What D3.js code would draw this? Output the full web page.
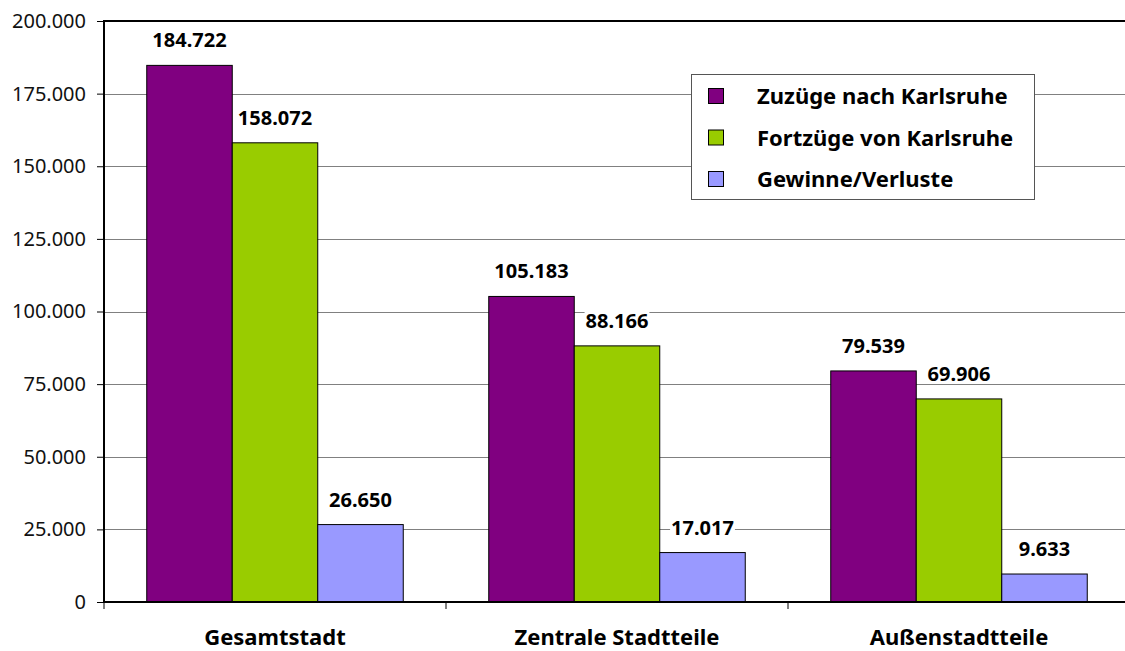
<!DOCTYPE html>
<html>
<head>
<meta charset="utf-8">
<script src="https://cdn.jsdelivr.net/npm/d3@7"></script>
<style>
  body { margin: 0; background: #fff; }
  svg { display: block; font-family: "Noto Sans", sans-serif; }
</style>
</head>
<body>
<div id="chart"></div>
<script>
const categories = ["Gesamtstadt", "Zentrale Stadtteile", "Außenstadtteile"];
const seriesNames = ["Zuzüge nach Karlsruhe", "Fortzüge von Karlsruhe", "Gewinne/Verluste"];
const zuzuege = [184722, 105183, 79539];
const fortzuege = [158072, 88166, 69906];
const gewinne = [26650, 17017, 9633];
const yTicks = [0, 25000, 50000, 75000, 100000, 125000, 150000, 175000, 200000];

const colors = ["#800080", "#99cc00", "#9999ff"];
const seriesValues = [zuzuege, fortzuege, gewinne];

const size = { width: 1125, height: 651 };
const plot = { left: 104, right: 1130, top: 21, bottom: 602 };

const de = d3.formatLocale({ decimal: ",", thousands: ".", grouping: [3], currency: ["", " €"] });
const fmt = de.format(",d");

const svg = d3.select("#chart")
  .append("svg")
  .attr("width", size.width)
  .attr("height", size.height);

const x0 = d3.scaleBand().domain(categories).range([plot.left, plot.right]).padding(0);
const x1 = d3.scaleBand().domain(d3.range(seriesNames.length))
  .range([0, x0.bandwidth()]).paddingInner(0).paddingOuter(0.5);
const y = d3.scaleLinear().domain([0, 200000]).range([plot.bottom, plot.top]);

// gridlines
svg.append("g")
  .selectAll("line")
  .data(yTicks.filter(d => d > 0 && d < 200000))
  .enter().append("line")
    .attr("x1", plot.left).attr("x2", size.width)
    .attr("y1", d => Math.round(y(d)) + 0.5).attr("y2", d => Math.round(y(d)) + 0.5)
    .attr("stroke", "#808080").attr("stroke-width", 1);

// top border
svg.append("line")
  .attr("x1", plot.left).attr("x2", size.width)
  .attr("y1", plot.top).attr("y2", plot.top)
  .attr("stroke", "#000").attr("stroke-width", 2);

// bars
const groups = svg.append("g")
  .selectAll("g")
  .data(categories)
  .enter().append("g")
    .attr("transform", d => "translate(" + x0(d) + ",0)");

groups.selectAll("rect")
  .data((c, ci) => seriesValues.map((s, si) => ({ si: si, v: s[ci] })))
  .enter().append("rect")
    .attr("x", d => x1(d.si))
    .attr("y", d => y(d.v))
    .attr("width", x1.bandwidth())
    .attr("height", d => y(0) - y(d.v))
    .attr("fill", d => colors[d.si])
    .attr("stroke", "#000")
    .attr("stroke-width", 1);

// value labels with white background
const labels = groups.selectAll("g.lbl")
  .data((c, ci) => seriesValues.map((s, si) => ({ si: si, v: s[ci] })))
  .enter().append("g")
    .attr("class", "lbl");

labels.append("rect").attr("fill", "#fff");
labels.append("text")
  .attr("x", d => x1(d.si) + x1.bandwidth() / 2)
  .attr("y", d => y(d.v) - 18)
  .attr("text-anchor", "middle")
  .attr("font-size", 20)
  .attr("font-weight", "bold")
  .attr("fill", "#000")
  .text(d => fmt(d.v));
labels.each(function() {
  const t = d3.select(this).select("text");
  const b = t.node().getBBox();
  d3.select(this).select("rect")
    .attr("x", b.x - 1).attr("y", b.y + 4)
    .attr("width", b.width + 2).attr("height", b.height - 8);
});

// y axis
const yAxis = svg.append("g")
  .attr("transform", "translate(" + plot.left + ",0)")
  .call(d3.axisLeft(y).tickValues(yTicks).tickFormat(fmt).tickSize(7).tickPadding(11));
yAxis.select(".domain").remove();
yAxis.selectAll(".tick line").attr("stroke", "#000");
yAxis.selectAll(".tick text")
  .attr("font-family", "Noto Sans").attr("font-size", 20).attr("fill", "#111");
svg.append("line")
  .attr("x1", plot.left).attr("x2", plot.left)
  .attr("y1", plot.top - 1).attr("y2", plot.bottom + 1)
  .attr("stroke", "#000").attr("stroke-width", 2);

// x axis
const xAxis = svg.append("g")
  .attr("transform", "translate(0," + plot.bottom + ")")
  .call(d3.axisBottom(x0).tickSize(0).tickPadding(27));
xAxis.select(".domain").remove();
xAxis.selectAll(".tick text")
  .attr("font-family", "Noto Sans").attr("font-size", 22)
  .attr("font-weight", "bold").attr("fill", "#000");
svg.append("line")
  .attr("x1", plot.left - 1).attr("x2", size.width)
  .attr("y1", plot.bottom).attr("y2", plot.bottom)
  .attr("stroke", "#000").attr("stroke-width", 2);
svg.append("g")
  .selectAll("line")
  .data(categories.concat(["end"]))
  .enter().append("line")
    .attr("x1", (d, i) => i < categories.length ? x0(d) : plot.right)
    .attr("x2", (d, i) => i < categories.length ? x0(d) : plot.right)
    .attr("y1", plot.bottom).attr("y2", plot.bottom + 7)
    .attr("stroke", "#000").attr("stroke-width", 1);

// legend
const legend = svg.append("g").attr("transform", "translate(691,74)");
legend.append("rect")
  .attr("x", 0.5).attr("y", 0.5)
  .attr("width", 343).attr("height", 125)
  .attr("fill", "#fff").attr("stroke", "#555").attr("stroke-width", 1);
const items = legend.selectAll("g.item")
  .data(seriesNames)
  .enter().append("g")
    .attr("class", "item")
    .attr("transform", (d, i) => "translate(0," + (22 + i * 41.5) + ")");
items.append("rect")
  .attr("x", 17.5).attr("y", -7.5)
  .attr("width", 15).attr("height", 15)
  .attr("fill", (d, i) => colors[i])
  .attr("stroke", "#000").attr("stroke-width", 1);
items.append("text")
  .attr("x", 66).attr("y", 8)
  .attr("font-size", 22).attr("font-weight", "bold").attr("fill", "#000")
  .text(d => d);
</script>
</body>
</html>
